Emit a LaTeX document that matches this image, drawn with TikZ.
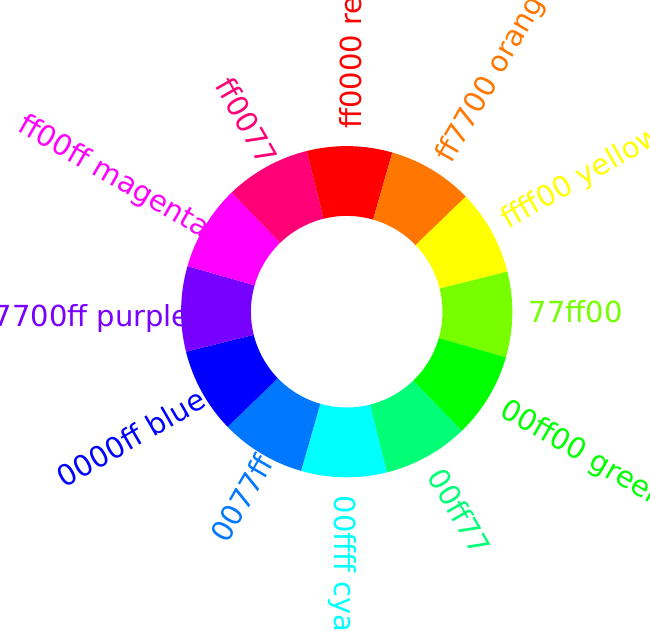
\documentclass[tikz,border=0pt]{standalone}
\usepackage{fontspec}
\setmainfont{DejaVu Sans}
\usetikzlibrary{calc}
\definecolor{cR}{HTML}{FF0000}
\definecolor{cO}{HTML}{FF7700}
\definecolor{cY}{HTML}{FFFF00}
\definecolor{cYG}{HTML}{77FF00}
\definecolor{cG}{HTML}{00FF00}
\definecolor{cGC}{HTML}{00FF77}
\definecolor{cC}{HTML}{00FFFF}
\definecolor{cCB}{HTML}{0077FF}
\definecolor{cB}{HTML}{0000FF}
\definecolor{cP}{HTML}{7700FF}
\definecolor{cM}{HTML}{FF00FF}
\definecolor{cMR}{HTML}{FF0077}
\tikzset{
  lab/.style={font=\fontsize{29}{34}\selectfont, inner sep=0pt, outer sep=0pt},
  labR/.style={lab, anchor=base west},
  labL/.style={lab, anchor=base east},
}
\newcommand{\seg}[2]{%
  \fill[#2] ({#1-15}:95.8) -- ({#1-15}:165.6) arc[start angle={#1-15}, end angle={#1+15}, radius=165.6]
    -- ({#1+15}:95.8) arc[start angle={#1+15}, end angle={#1-15}, radius=95.8] -- cycle;}
\begin{document}
\begin{tikzpicture}[x=1pt,y=1pt]
\useasboundingbox (-346.7,-318.3) rectangle (303.3,311.7);
\clip (-346.7,-318.3) rectangle (303.3,311.7);
% right-side labels
\node[labR, text=cR, rotate=90] (lR) at ($(90:183)+(0:15)$) {ff0000 red};
\node[labR, text=cO, rotate=60] (lO) at ($(60:180)+(-30:17)$) {ff7700 orange};
\node[labR, text=cY, rotate=30] (lY) at ($(30:181)+(-60:10)$) {ffff00 yellow};
\node[labR, text=cYG, rotate=0] (lYG) at ($(0:182)+(-90:10.5)$) {77ff00};
\node[labR, text=cG, rotate=-30] (lG) at ($(-30:183)+(-120:14)$) {00ff00 green};
\node[labR, text=cGC, rotate=-60] (lGC) at ($(-60:183)+(-150:13)$) {00ff77};
\node[labR, text=cC, rotate=-90] (lC) at ($(-90:184)+(-180:12)$) {00ffff cyan};
% left-side labels
\node[labL, text=cCB, rotate=60] (lCB) at ($(-120:167)+(-30:13)$) {0077ff};
\node[labL, text=cB, rotate=30] (lB) at ($(-150:167)+(-60:12.5)$) {0000ff blue};
\node[labL, text=cP, rotate=0] (lP) at ($(180:157)+(-90:15)$) {7700ff purple};
\node[labL, text=cM, rotate=-30] (lM) at ($(150:161)+(-120:8.5)$) {ff00ff magenta};
\node[labL, text=cMR, rotate=-60] (lMR) at ($(120:168)+(-150:2)$) {ff0077};
% ring segments
\seg{89}{cR}
\seg{59}{cO}
\seg{29}{cY}
\seg{-1}{cYG}
\seg{-31}{cG}
\seg{-61}{cGC}
\seg{-91}{cC}
\seg{-121}{cCB}
\seg{-151}{cB}
\seg{179}{cP}
\seg{149}{cM}
\seg{119}{cMR}
\end{tikzpicture}
\end{document}
